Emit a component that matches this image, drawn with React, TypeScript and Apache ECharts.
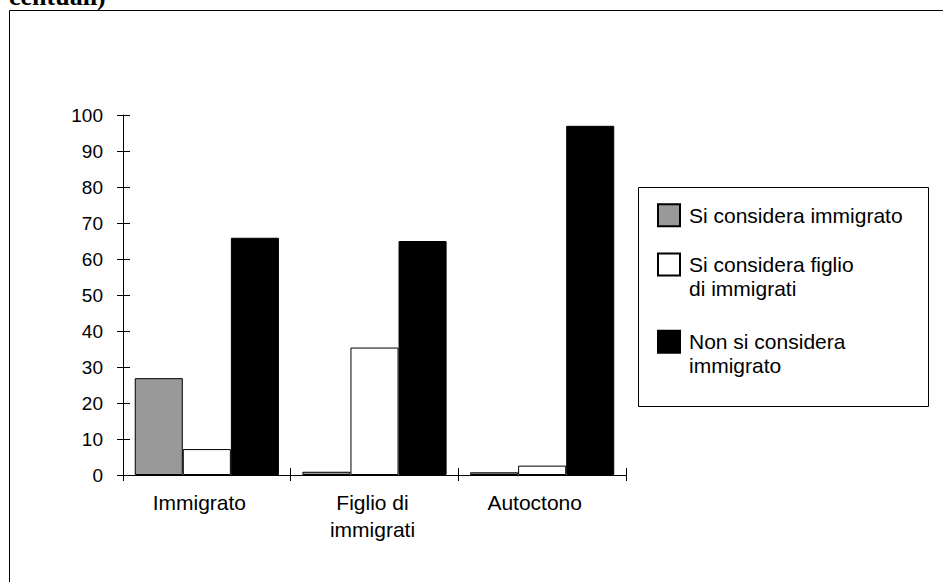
import React, { useEffect, useRef } from "react";
import * as echarts from "echarts";

const categories = ["Immigrato", "Figlio di\nimmigrati", "Autoctono"];
const seriesNames = [
  "Si considera immigrato",
  "Si considera figlio\ndi immigrati",
  "Non si considera\nimmigrato",
];
const siConsideraImmigrato = [26.9, 0.9, 0.75];
const siConsideraFiglio = [7.2, 35.4, 2.6];
const nonSiConsidera = [65.9, 65.0, 97.0];
const yMin = 0;
const yMax = 100;
const yInterval = 10;
const titleTail = "centuali)";

const FONT = "Liberation Sans, Arial, sans-serif";

export default function App() {
  const ref = useRef<HTMLDivElement>(null);
  useEffect(() => {
    if (!ref.current) return;
    const chart = echarts.init(ref.current, null, { renderer: "svg" });
    const labelPad = [
      [0, 15, 0, 0],
      [0, 4, 0, 0],
      [0, 15, 0, 0],
    ];
    const colors = ["#999999", "#ffffff", "#000000"];
    const values = [siConsideraImmigrato, siConsideraFiglio, nonSiConsidera];
    const legendTops = [203.2, 228.5, 305.7];
    const option: any = {
      animation: false,
      backgroundColor: "#ffffff",
      grid: { left: 123, top: 115, width: 503, height: 360, containLabel: false },
      xAxis: [
        {
          type: "category",
          position: "bottom",
          data: categories.map((c, i) => ({ value: c, textStyle: { padding: labelPad[i] } })),
          axisLine: { show: true, lineStyle: { color: "#000", width: 1 } },
          axisTick: { show: true, length: 6, alignWithLabel: false, lineStyle: { color: "#000" } },
          axisLabel: {
            margin: 14,
            color: "#000",
            fontSize: 21,
            fontFamily: FONT,
            lineHeight: 27,
            interval: 0,
          },
          splitLine: { show: false },
        },
        {
          type: "category",
          position: "bottom",
          data: categories,
          axisLine: { show: false },
          axisTick: { show: true, inside: true, length: 7, alignWithLabel: false, lineStyle: { color: "#000" } },
          axisLabel: { show: false },
          splitLine: { show: false },
        },
      ],
      yAxis: [
        {
          type: "value",
          position: "left",
          min: yMin,
          max: yMax,
          interval: yInterval,
          axisLine: { show: true, lineStyle: { color: "#000", width: 1 } },
          axisTick: { show: true, length: 6, lineStyle: { color: "#000" } },
          axisLabel: { margin: 20, color: "#000", fontSize: 19, fontFamily: FONT },
          splitLine: { show: false },
        },
        {
          type: "value",
          position: "left",
          min: yMin,
          max: yMax,
          interval: yInterval,
          axisLine: { show: false },
          axisTick: { show: true, inside: true, length: 7, lineStyle: { color: "#000" } },
          axisLabel: { show: false },
          splitLine: { show: false },
        },
      ],
      legend: seriesNames.map((n, i) => ({
        data: [{ name: n, icon: "rect" }],
        formatter: (name: string) => (name.indexOf("\n") >= 0 ? "\n" + name : name),
        left: 657,
        top: legendTops[i],
        orient: "vertical",
        padding: 0,
        itemWidth: 22,
        itemHeight: 22,
        selectedMode: false,
        textStyle: {
          color: "#000",
          fontSize: 21,
          fontFamily: FONT,
          lineHeight: 24,
          padding: [0, 0, 0, 4],
        },
      })),
      series: seriesNames.map((n, i) => ({
        name: n,
        type: "bar",
        xAxisIndex: 0,
        yAxisIndex: 0,
        data: values[i],
        barGap: "0%",
        barCategoryGap: "14%",
        itemStyle: { color: colors[i], borderColor: "#000", borderWidth: 1 },
      })),
      graphic: [
        {
          type: "rect",
          shape: { x: 9.5, y: 10.5, width: 1200, height: 1200 },
          style: { fill: "none", stroke: "#000", lineWidth: 1 },
          silent: true,
          z: -1,
        },
        {
          type: "rect",
          shape: { x: 638.5, y: 187.5, width: 290, height: 219 },
          style: { fill: "none", stroke: "#000", lineWidth: 1 },
          silent: true,
        },
        {
          type: "text",
          x: 9,
          y: -4,
          style: {
            text: titleTail,
            fontSize: 26,
            fontWeight: "bold",
            fontFamily: "Liberation Serif, Times New Roman, serif",
            fill: "#000",
            verticalAlign: "middle",
          },
          silent: true,
        },
      ],
    };
    chart.setOption(option);
    return () => chart.dispose();
  }, []);
  return (
    <div
      ref={ref}
      style={{ position: "absolute", left: 0, top: 0, width: 943, height: 582 }}
    />
  );
}
